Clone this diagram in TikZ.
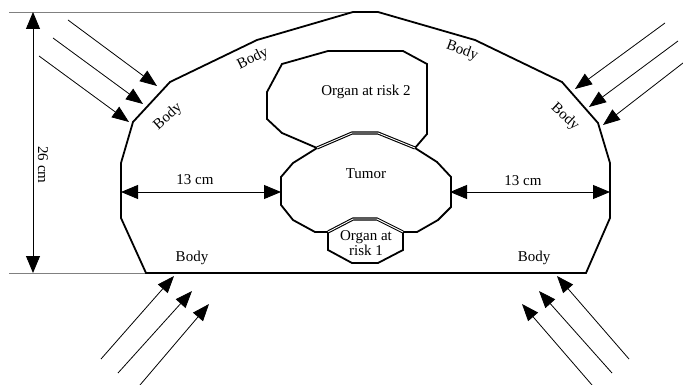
\documentclass[tikz,border=0pt]{standalone}
\usepackage{fontspec}
\setmainfont{Liberation Serif}
\usetikzlibrary{arrows.meta}
\begin{document}
\begin{tikzpicture}[x=1pt,y=-1pt,
  outline/.style={line width=1.8pt,line join=miter},
  shared/.style={line width=1.1pt,double=white,double distance=0.9pt},
  beam/.style={line width=0.8pt,-{Triangle[length=17pt,width=13pt]}},
  dim/.style={line width=0.9pt,{Triangle[length=17pt,width=14pt]}-{Triangle[length=17pt,width=14pt]}},
  guide/.style={line width=0.6pt,gray},
  lbl/.style={font=\fontsize{15}{15}\selectfont,inner sep=0pt},
]
\useasboundingbox (0,0) rectangle (683,385);
% guide lines
\coordinate (g1a) at (9,12); \coordinate (g1b) at (355,12);
\coordinate (g2a) at (9,273); \coordinate (g2b) at (146,273);
\draw[guide] (g1a) -- (g1b);
\draw[guide] (g2a) -- (g2b);
% body outline
\draw[outline] (353,12) -- (378,12) -- (475,40) -- (562,82) -- (598,123) -- (610,163) -- (610,218) -- (586,273) -- (146,273) -- (121,218) -- (121,163) -- (133,122) -- (170,82) -- (257,40) -- cycle;
% tumor
\draw[outline] (415,148) -- (437,162) -- (451,177) -- (451,207) -- (438,220) -- (417,232) -- (403,232);
\draw[outline] (328,232) -- (315,232) -- (293,220) -- (281,205) -- (281,177) -- (293,163) -- (317,148);
% organ 2
\draw[outline] (317,148) -- (282,133) -- (267,119) -- (267,92) -- (282,64) -- (328,51) -- (403,51) -- (427,64) -- (427,134) -- (415,148);
% organ 1
\draw[outline] (403,232) -- (403,250) -- (378,263) -- (352,263) -- (328,250) -- (328,232);
% shared boundaries
\draw[shared] (317,148) -- (352,133) -- (378,133) -- (415,148);
\draw[shared] (328,232) -- (353,219) -- (377,219) -- (403,232);
% texts
\node[lbl] (org2) at (366,92) {Organ at risk 2};
\node[lbl] (tum) at (366,174) {Tumor};
\node[lbl,align=center] (org1) at (366,243) {Organ at\\risk 1};
\node[lbl] (b1) at (192,258) {Body};
\node[lbl] (b2) at (534,258) {Body};
\node[lbl,rotate=42] (b3) at (168,117) {Body};
\node[lbl,rotate=26] (b4) at (253,59) {Body};
\node[lbl,rotate=-20] (b5) at (462,51) {Body};
\node[lbl,rotate=-43] (b6) at (565,117) {Body};
\node[lbl] (d1) at (195,180) {13 cm};
\node[lbl] (d2) at (523,181) {13 cm};
\node[lbl,rotate=-90] (d3) at (43,165) {26 cm};
% dimension arrows
\coordinate (v1) at (33,12); \coordinate (v2) at (33,273);
\draw[dim] (v1) -- (v2);
\coordinate (l1) at (121,192); \coordinate (l2) at (281,192);
\draw[dim] (l1) -- (l2);
\coordinate (r1) at (450,192); \coordinate (r2) at (610,192);
\draw[dim] (r1) -- (r2);
% beams top-left
\coordinate (a1s) at (68,20); \coordinate (a1e) at (157,86);
\coordinate (a2s) at (53,38); \coordinate (a2e) at (143,104);
\coordinate (a3s) at (39,56); \coordinate (a3e) at (129,122);
\draw[beam] (a1s) -- (a1e);
\draw[beam] (a2s) -- (a2e);
\draw[beam] (a3s) -- (a3e);
% beams top-right
\coordinate (b1s) at (665,23); \coordinate (b1e) at (575,89);
\coordinate (b2s) at (678,41); \coordinate (b2e) at (589,107);
\coordinate (b3s) at (683,63); \coordinate (b3e) at (603,125);
\draw[beam] (b1s) -- (b1e);
\draw[beam] (b2s) -- (b2e);
\draw[beam] (b3s) -- (b3e);
% beams bottom-left
\coordinate (c1s) at (101,359); \coordinate (c1e) at (174,276);
\coordinate (c2s) at (118,373); \coordinate (c2e) at (192,291);
\coordinate (c3s) at (140,385); \coordinate (c3e) at (209,304);
\draw[beam] (c1s) -- (c1e);
\draw[beam] (c2s) -- (c2e);
\draw[beam] (c3s) -- (c3e);
% beams bottom-right
\coordinate (e1s) at (592,385); \coordinate (e1e) at (522,304);
\coordinate (e2s) at (612,373); \coordinate (e2e) at (539,291);
\coordinate (e3s) at (629,359); \coordinate (e3e) at (557,276);
\draw[beam] (e1s) -- (e1e);
\draw[beam] (e2s) -- (e2e);
\draw[beam] (e3s) -- (e3e);
\end{tikzpicture}
\end{document}
